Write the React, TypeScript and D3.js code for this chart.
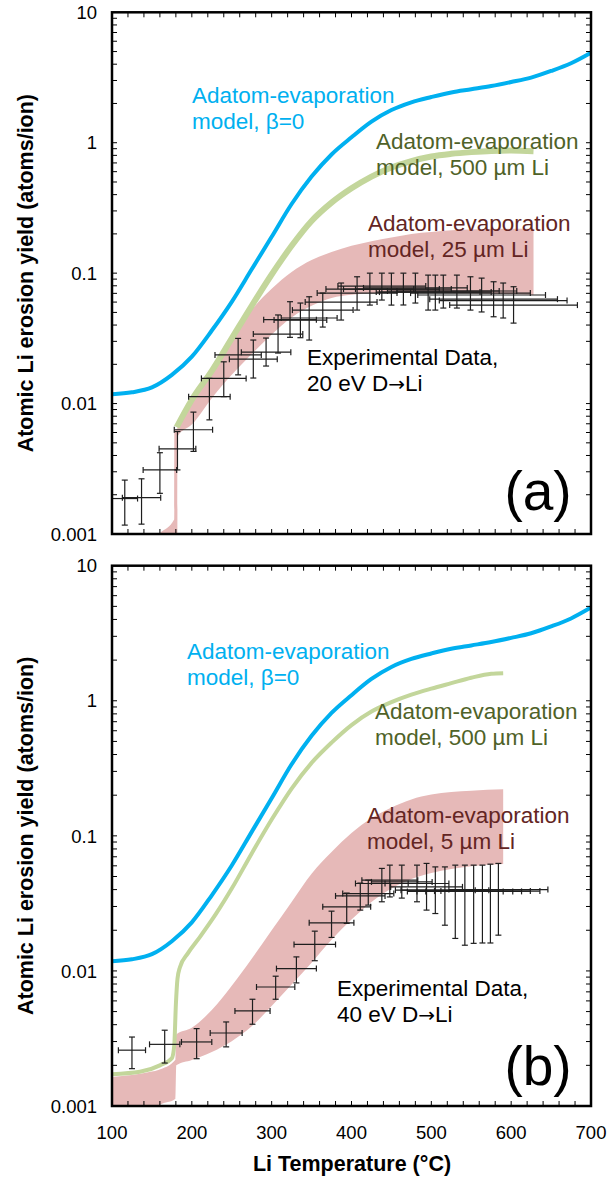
import React, { useEffect, useRef } from "react";
import * as d3 from "d3";

// x axis (Li temperature, °C) and log y axis (yield)
const xTickValues = [100, 200, 300, 400, 500, 600, 700];
const yTickValues = [10, 1, 0.1, 0.01, 0.001];
const yTickLabels = ["10", "1", "0.1", "0.01", "0.001"];

// Adatom-evaporation model, beta = 0 (same curve in both panels)
const betaT = [100, 125, 150, 175, 200, 225, 250, 275, 300, 325, 350, 375, 400, 425, 450, 475, 500, 525, 550, 575, 600, 625, 650, 675, 700];
const betaY = [0.0118, 0.0122, 0.0133, 0.0166, 0.0229, 0.0363, 0.0603, 0.107, 0.19, 0.339, 0.55, 0.813, 1.1, 1.45, 1.78, 2.04, 2.24, 2.43, 2.57, 2.72, 2.92, 3.16, 3.55, 4.07, 4.9];

// (a) 500 um Li model
const thickAT = [181, 200, 225, 250, 275, 300, 325, 350, 375, 400, 425, 450, 475, 500, 525, 550, 575, 600, 628];
const thickAY = [0.0066, 0.0107, 0.0178, 0.0316, 0.0562, 0.0977, 0.162, 0.251, 0.347, 0.447, 0.55, 0.646, 0.724, 0.785, 0.822, 0.847, 0.865, 0.871, 0.861];

// (a) 25 um Li model band
const bandAT = [150, 160, 178, 178.1, 181.9, 182, 200, 225, 250, 275, 300, 325, 350, 375, 400, 425, 450, 475, 500, 525, 550, 590, 628];
const bandALo = [0.0005, 0.0005, 0.0005, 0.0005, 0.0005, 0.0056, 0.0069, 0.011, 0.0166, 0.024, 0.0339, 0.0457, 0.0562, 0.0646, 0.0684, 0.07, 0.0708, 0.0708, 0.0708, 0.0705, 0.07, 0.0692, 0.0684];
const bandAHi = [0.0009, 0.00102, 0.0013, 0.0062, 0.0064, 0.0068, 0.0105, 0.0186, 0.0324, 0.0525, 0.0759, 0.102, 0.126, 0.145, 0.162, 0.176, 0.188, 0.2, 0.207, 0.213, 0.216, 0.219, 0.219];

// (a) experimental data, 20 eV D -> Li
const expAT = [116, 137, 160, 182, 202, 222, 240, 258, 277, 293, 308, 323, 336, 347, 364, 387, 407, 423, 438, 450, 465, 480, 496, 505, 515, 532, 549, 563, 578, 590, 603];
const expAXErr = [16, 24, 21, 23, 24, 26, 28, 29, 30, 31, 31, 33, 33, 35, 38, 45, 50, 55, 55, 60, 60, 65, 65, 70, 70, 75, 75, 80, 80, 80, 80];
const expAY = [0.00187, 0.0019, 0.0031, 0.0045, 0.0063, 0.0113, 0.0156, 0.0236, 0.0219, 0.0248, 0.0341, 0.044, 0.0437, 0.0453, 0.0521, 0.06, 0.0703, 0.0755, 0.0796, 0.0755, 0.0755, 0.077, 0.0716, 0.0716, 0.073, 0.073, 0.0703, 0.068, 0.0632, 0.0616, 0.0569];
const expALo = [0.00117, 0.00119, 0.00205, 0.0031, 0.0043, 0.0075, 0.0113, 0.0166, 0.0157, 0.0194, 0.0244, 0.0322, 0.032, 0.0307, 0.0386, 0.0437, 0.0521, 0.0569, 0.0622, 0.0569, 0.057, 0.059, 0.0521, 0.0521, 0.054, 0.054, 0.0521, 0.0504, 0.0463, 0.0453, 0.0414];
const expAHi = [0.00259, 0.00265, 0.0042, 0.0061, 0.0086, 0.0156, 0.0209, 0.0316, 0.0307, 0.0318, 0.0478, 0.0604, 0.059, 0.0659, 0.0703, 0.084, 0.0938, 0.1, 0.1, 0.1, 0.1, 0.1, 0.0966, 0.0966, 0.0966, 0.0966, 0.0938, 0.0916, 0.0859, 0.084, 0.0787];

// (b) 500 um Li model
const thickBT = [100, 135, 160, 175, 178, 180, 182, 185, 195, 210, 230, 250, 275, 300, 325, 350, 375, 400, 425, 450, 475, 500, 525, 550, 575, 590];
const thickBY = [0.00172, 0.00179, 0.002, 0.00226, 0.00282, 0.00562, 0.00871, 0.0106, 0.0135, 0.0178, 0.0263, 0.0407, 0.0741, 0.132, 0.224, 0.347, 0.49, 0.661, 0.832, 0.977, 1.11, 1.23, 1.35, 1.48, 1.585, 1.6];

// (b) 5 um Li model band
const bandBT = [100, 150, 158, 179.5, 180.5, 200, 225, 250, 275, 300, 325, 350, 375, 400, 425, 450, 475, 500, 525, 550, 590];
const bandBLo = [0.0007, 0.0008, 0.001, 0.00113, 0.002, 0.00219, 0.00251, 0.00302, 0.00389, 0.0055, 0.00794, 0.0115, 0.017, 0.024, 0.0324, 0.0407, 0.0479, 0.0531, 0.0569, 0.0596, 0.0619];
const bandBHi = [0.00164, 0.0018, 0.00185, 0.0022, 0.00339, 0.0038, 0.00513, 0.00776, 0.0123, 0.02, 0.0324, 0.0525, 0.0759, 0.105, 0.135, 0.162, 0.186, 0.202, 0.211, 0.216, 0.221];

// (b) experimental data, 40 eV D -> Li
const expBT = [125, 166, 206, 243, 276, 305, 331, 354, 375, 394, 411, 421, 438, 448, 463, 482, 494, 505, 517, 530, 542, 553, 564, 574, 584];
const expBXErr = [17, 19, 19, 20, 22, 24, 25, 26, 28, 30, 31, 32, 33, 35, 38, 40, 45, 50, 55, 60, 60, 60, 60, 62, 62];
const expBY = [0.00259, 0.00286, 0.00298, 0.00347, 0.00506, 0.0076, 0.0104, 0.0157, 0.0227, 0.0298, 0.0359, 0.0374, 0.0444, 0.047, 0.0456, 0.0444, 0.0419, 0.0396, 0.0396, 0.0388, 0.0388, 0.0388, 0.039, 0.039, 0.04];
const expBLo = [0.00189, 0.00208, 0.00224, 0.00274, 0.00403, 0.00617, 0.00815, 0.0119, 0.0177, 0.0225, 0.0282, 0.0307, 0.0325, 0.0353, 0.0346, 0.0325, 0.0282, 0.0266, 0.0218, 0.0174, 0.0155, 0.016, 0.0161, 0.0161, 0.0184];
const expBHi = [0.00324, 0.00364, 0.00374, 0.00419, 0.00617, 0.00914, 0.0127, 0.0197, 0.0277, 0.0377, 0.0447, 0.047, 0.0574, 0.0607, 0.0607, 0.0607, 0.0625, 0.0589, 0.0589, 0.0607, 0.0607, 0.0607, 0.0607, 0.0617, 0.0625];

const BLUE = "#00b0f0";
const GREEN = "#c3d69b";
const PINK = "#e6b9b8";
const GREEN_TEXT = "#4f6228";
const RED_TEXT = "#632523";
const FONT = "'Liberation Sans', Arial, sans-serif";

const panels = [
  {
    id: "a", top: 12.3, bottom: 534, tag: "(a)", tagY: 510, greenWidth: 6,
    thickT: thickAT, thickY: thickAY,
    bandT: bandAT, bandLo: bandALo, bandHi: bandAHi,
    expT: expAT, expXErr: expAXErr, expY: expAY, expLo: expALo, expHi: expAHi,
    labels: [
      { x: 192, y: 103, color: BLUE, lines: ["Adatom-evaporation", "model, β=0"] },
      { x: 376, y: 149, color: GREEN_TEXT, lines: ["Adatom-evaporation", "model, 500 µm Li"] },
      { x: 368, y: 231, color: RED_TEXT, lines: ["Adatom-evaporation", "model, 25 µm Li"] },
      { x: 307, y: 365, color: "#000", lines: ["Experimental Data,", "20 eV D|Li"] },
    ],
  },
  {
    id: "b", top: 565.7, bottom: 1106, tag: "(b)", tagY: 1085, greenWidth: 4,
    thickT: thickBT, thickY: thickBY,
    bandT: bandBT, bandLo: bandBLo, bandHi: bandBHi,
    expT: expBT, expXErr: expBXErr, expY: expBY, expLo: expBLo, expHi: expBHi,
    labels: [
      { x: 187, y: 659, color: BLUE, lines: ["Adatom-evaporation", "model, β=0"] },
      { x: 375, y: 719, color: GREEN_TEXT, lines: ["Adatom-evaporation", "model, 500 µm Li"] },
      { x: 367, y: 823, color: RED_TEXT, lines: ["Adatom-evaporation", "model, 5 µm Li"] },
      { x: 337, y: 996, color: "#000", lines: ["Experimental Data,", "40 eV D|Li"] },
    ],
  },
];

const App = () => {
  const svgRef = useRef(null);

  useEffect(() => {
    const svg = d3.select(svgRef.current);
    svg.selectAll("*").remove();

    const x = d3.scaleLinear().domain([100, 700]).range([112, 591]);
    const defs = svg.append("defs");

    panels.forEach((p) => {
      const y = d3.scaleLog().domain([0.001, 10]).range([p.bottom, p.top]);
      const g = svg.append("g");

      defs.append("clipPath").attr("id", "clip-" + p.id)
        .append("rect")
        .attr("x", x(100)).attr("y", p.top)
        .attr("width", x(700) - x(100)).attr("height", p.bottom - p.top);

      const plot = g.append("g").attr("clip-path", `url(#clip-${p.id})`);

      // model band
      const band = p.bandT.map((t, i) => ({ t, lo: p.bandLo[i], hi: p.bandHi[i] }));
      plot.append("path")
        .datum(band)
        .attr("fill", PINK)
        .attr("d", d3.area().x((d) => x(d.t)).y0((d) => y(d.lo)).y1((d) => y(d.hi)).curve(d3.curveMonotoneX));

      const line = d3.line().x((d) => x(d[0])).y((d) => y(d[1])).curve(d3.curveMonotoneX);

      // 500 um model
      plot.append("path")
        .datum(p.thickT.map((t, i) => [t, p.thickY[i]]))
        .attr("fill", "none")
        .attr("stroke", GREEN)
        .attr("stroke-width", p.greenWidth)
        .attr("d", line);

      // beta = 0 model
      plot.append("path")
        .datum(betaT.map((t, i) => [t, betaY[i]]))
        .attr("fill", "none")
        .attr("stroke", BLUE)
        .attr("stroke-width", 4)
        .attr("d", line);

      // error bars
      const eb = g.append("g").attr("stroke", "#1e1e1e").attr("stroke-width", 1.2);
      p.expT.forEach((t, i) => {
        const cx = x(t), cy = y(p.expY[i]);
        const x0 = x(t - p.expXErr[i]), x1 = x(t + p.expXErr[i]);
        const y0 = y(p.expLo[i]), y1 = y(p.expHi[i]);
        eb.append("line").attr("x1", x0).attr("x2", x1).attr("y1", cy).attr("y2", cy);
        eb.append("line").attr("x1", x0).attr("x2", x0).attr("y1", cy - 3).attr("y2", cy + 3);
        eb.append("line").attr("x1", x1).attr("x2", x1).attr("y1", cy - 3).attr("y2", cy + 3);
        eb.append("line").attr("x1", cx).attr("x2", cx).attr("y1", y0).attr("y2", y1);
        eb.append("line").attr("x1", cx - 3).attr("x2", cx + 3).attr("y1", y0).attr("y2", y0);
        eb.append("line").attr("x1", cx - 3).attr("x2", cx + 3).attr("y1", y1).attr("y2", y1);
      });

      // ticks (inward, all four sides)
      const ticks = g.append("g").attr("stroke", "#000").attr("stroke-width", 1);
      d3.range(120, 700, 20).forEach((t) => {
        ticks.append("line").attr("x1", x(t)).attr("x2", x(t)).attr("y1", p.bottom).attr("y2", p.bottom - 5);
        ticks.append("line").attr("x1", x(t)).attr("x2", x(t)).attr("y1", p.top).attr("y2", p.top + 5);
      });
      [0.001, 0.01, 0.1, 1].forEach((dec) => {
        d3.range(1, 10).forEach((k) => {
          const v = dec * k;
          if (v <= 0.001) return;
          ticks.append("line").attr("x1", x(100)).attr("x2", x(100) + 5).attr("y1", y(v)).attr("y2", y(v));
          ticks.append("line").attr("x1", x(700)).attr("x2", x(700) - 5).attr("y1", y(v)).attr("y2", y(v));
        });
      });

      // frame
      g.append("rect")
        .attr("x", x(100)).attr("y", p.top)
        .attr("width", x(700) - x(100)).attr("height", p.bottom - p.top)
        .attr("fill", "none").attr("stroke", "#000").attr("stroke-width", 2.5);

      // y tick labels
      yTickValues.forEach((v, i) => {
        g.append("text")
          .attr("x", 97).attr("y", y(v)).attr("dy", "0.36em")
          .attr("text-anchor", "end")
          .style("font-family", FONT).style("font-size", "18.5px")
          .text(yTickLabels[i]);
      });

      // y axis title
      g.append("text")
        .attr("transform", `translate(33, ${(p.top + p.bottom) / 2}) rotate(-90)`)
        .attr("text-anchor", "middle")
        .style("font-family", FONT).style("font-size", "21.5px").style("font-weight", "bold")
        .text("Atomic Li erosion yield (atoms/ion)");

      // annotations ("|" marks where the arrow goes)
      p.labels.forEach((lab) => {
        const t = g.append("text")
          .attr("x", lab.x).attr("y", lab.y)
          .attr("fill", lab.color)
          .style("font-family", FONT).style("font-size", "22.5px");
        lab.lines.forEach((s, k) => {
          const ts = t.append("tspan").attr("x", lab.x).attr("dy", k === 0 ? 0 : 26);
          const parts = s.split("|");
          ts.append("tspan").text(parts[0]);
          if (parts.length > 1) {
            ts.append("tspan").style("font-family", "'DejaVu Sans', sans-serif").style("font-size", "20px").text("→");
            ts.append("tspan").text(parts[1]);
          }
        });
      });

      // panel tag
      g.append("text")
        .attr("x", 538).attr("y", p.tagY)
        .attr("text-anchor", "middle")
        .style("font-family", FONT).style("font-size", "55px")
        .text(p.tag);
    });

    // x tick labels and title (bottom panel only)
    xTickValues.forEach((t) => {
      svg.append("text")
        .attr("x", x(t)).attr("y", 1139)
        .attr("text-anchor", "middle")
        .style("font-family", FONT).style("font-size", "18.5px")
        .text(t);
    });
    svg.append("text")
      .attr("x", 352).attr("y", 1171)
      .attr("text-anchor", "middle")
      .style("font-family", FONT).style("font-size", "21.5px").style("font-weight", "bold")
      .text("Li Temperature (°C)");
  }, []);

  return (
    <svg
      ref={svgRef}
      width={608}
      height={1179}
      style={{ position: "absolute", left: 0, top: 0, background: "#fff" }}
    />
  );
};

export default App;
